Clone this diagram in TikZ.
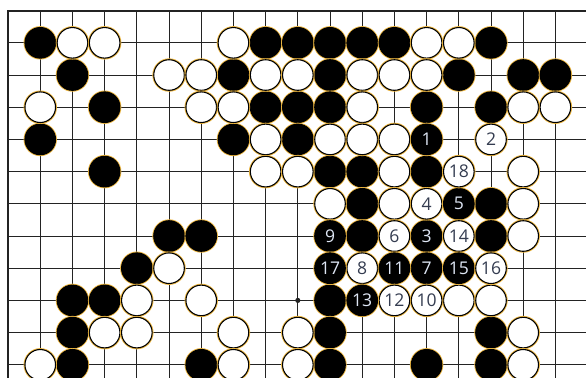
\documentclass[tikz,border=0pt]{standalone}
\usepackage{fontspec}
\newfontfamily\movefont{Open Sans}
\definecolor{rim}{RGB}{236,182,64}
\definecolor{gridline}{RGB}{35,35,35}
\definecolor{ontxtb}{RGB}{222,230,244}
\definecolor{ontxtw}{RGB}{52,60,80}
\tikzset{
  stone/.style={circle, minimum size=0.95cm, inner sep=0pt, line width=0.95pt,
    preaction={draw=rim, line width=2.5pt}, font=\movefont\fontsize{15.5}{15.5}\selectfont},
  bstone/.style={stone, fill=black, draw=black, text=ontxtb},
  wstone/.style={stone, fill=white, draw=black, text=ontxtw},
}

\begin{document}
\begin{tikzpicture}[x=1cm, y=-1cm]
                \useasboundingbox (-0.25,-0.33) rectangle (17.95,11.38);
                \clip (-0.25,-0.33) rectangle (17.95,11.38);
                % Board
                \foreach \c in {0,...,17} \draw[gridline, line width=0.85pt] (\c,0) -- (\c,12);
                \foreach \r in {0,...,11} \draw[gridline, line width=0.85pt] (0,\r) -- (18.5,\r);
                \draw[gridline, line width=1.7pt] (0,12) -- (0,0) -- (18.5,0);
                \fill[gridline] (9,9) circle (0.08);
                % Black stones
                \foreach \c/\r in {1/1,8/1,9/1,10/1,11/1,12/1,15/1,
                                   2/2,7/2,10/2,14/2,16/2,17/2,
                                   3/3,8/3,9/3,10/3,13/3,15/3,
                                   1/4,7/4,9/4,
                                   3/5,10/5,11/5,13/5,
                                   11/6,15/6,
                                   5/7,6/7,11/7,15/7,
                                   4/8,
                                   2/9,3/9,10/9,
                                   2/10,10/10,15/10,
                                   2/11,6/11,10/11,13/11,15/11}
                  \node[bstone] (b-\c-\r) at (\c,\r) {};
                % White stones
                \foreach \c/\r in {2/1,3/1,7/1,13/1,14/1,
                                   5/2,6/2,8/2,9/2,11/2,12/2,13/2,
                                   1/3,6/3,7/3,11/3,16/3,17/3,
                                   8/4,10/4,11/4,12/4,
                                   8/5,9/5,12/5,16/5,
                                   10/6,12/6,16/6,
                                   16/7,
                                   5/8,
                                   4/9,6/9,14/9,15/9,
                                   3/10,4/10,7/10,9/10,16/10,
                                   1/11,7/11,9/11,16/11}
                  \node[wstone] (w-\c-\r) at (\c,\r) {};
                % Moves
                \node[bstone] (m1) at (13,4) {1};
                \node[wstone] (m2) at (15,4) {2};
                \node[bstone] (m3) at (13,7) {3};
                \node[wstone] (m4) at (13,6) {4};
                \node[bstone] (m5) at (14,6) {5};
                \node[wstone] (m6) at (12,7) {6};
                \node[bstone] (m7) at (13,8) {7};
                \node[wstone] (m8) at (11,8) {8};
                \node[bstone] (m9) at (10,7) {9};
                \node[wstone] (m10) at (13,9) {10};
                \node[bstone] (m11) at (12,8) {11};
                \node[wstone] (m12) at (12,9) {12};
                \node[bstone] (m13) at (11,9) {13};
                \node[wstone] (m14) at (14,7) {14};
                \node[bstone] (m15) at (14,8) {15};
                \node[wstone] (m16) at (15,8) {16};
                \node[bstone] (m17) at (10,8) {17};
                \node[wstone] (m18) at (14,5) {18};
            \end{tikzpicture}
\end{document}
